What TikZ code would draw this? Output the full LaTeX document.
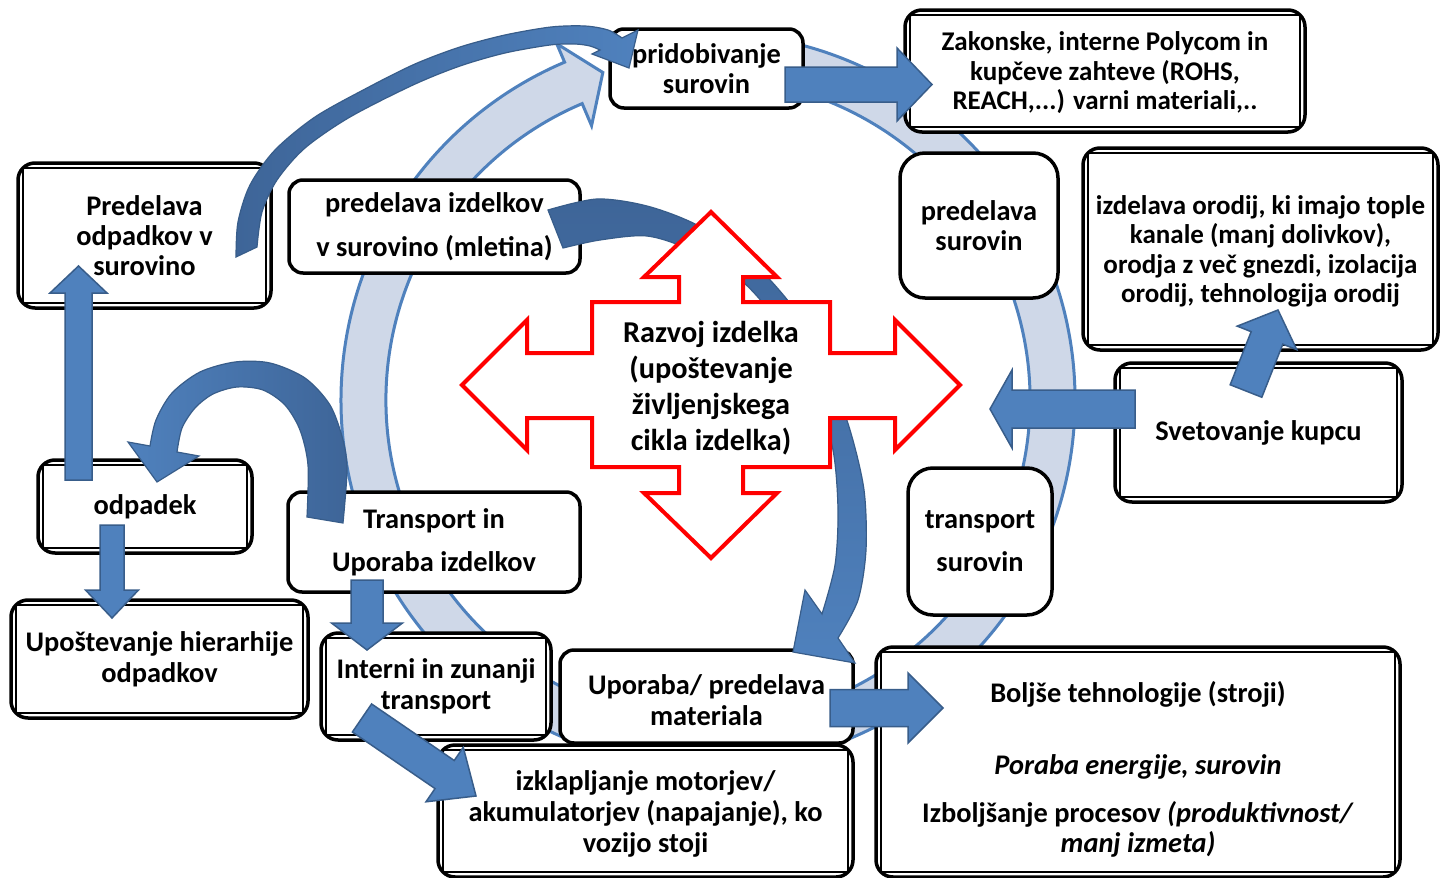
\documentclass[tikz,border=0pt]{standalone}
\usepackage{fontspec}
\setmainfont{Carlito}
\usetikzlibrary{calc}
\definecolor{bandfill}{RGB}{207,216,232}
\definecolor{accent}{RGB}{79,129,189}
\definecolor{accentdk}{RGB}{56,93,138}
\definecolor{curvdark}{RGB}{62,101,152}
\newcommand{\blockarrow}[5]{%
  \coordinate (hb) at ($(#2)!#5!(#1)$);
  \path[blockarr] ($(#1)!#3!90:(#2)$) -- ($(hb)!#3!-90:(#1)$) -- ($(hb)!#4!-90:(#1)$) -- (#2)
     -- ($(hb)!#4!90:(#1)$) -- ($(hb)!#3!90:(#1)$) -- ($(#1)!#3!-90:(#2)$) -- cycle;}
\newcommand{\lift}[1]{\rule{0pt}{#1}}
\begin{document}
\begin{tikzpicture}[x=1pt,y=-1pt,
  every node/.style={font=\fontsize{28.4}{30}\selectfont\bfseries, text=black},
  sbox/.style={draw=black, line width=3.5pt, fill=white, rounded corners=14pt, inner sep=0pt, align=center},
  dbox/.style={sbox, rounded corners=17pt},
  innerline/.style={draw=black, line width=1.6pt},
  band/.style={fill=bandfill, draw=accent, line width=3pt, line join=miter},
  blockarr/.style={fill=accent, draw=accentdk, line width=1.5pt, line join=miter},
  curvarr/.style={draw=accentdk, line width=1.2pt, line join=miter},
  redarr/.style={draw=red, fill=white, line width=4pt, line join=miter},
]
\useasboundingbox (0,0) rectangle (1441,878);
\fill[white] (0,0) rectangle (1441,878);

% life-cycle band
\coordinate (cc) at (708,400);
\path[band] ([shift={(cc)}]85:367pt) arc[start angle=85,end angle=-247,radius=367pt]
  -- ([shift={(cc)}]-247:387pt) -- ([shift={(cc)}]-252.2:344pt) -- ([shift={(cc)}]-247:298pt)
  -- ([shift={(cc)}]-247:322pt) arc[start angle=-247,end angle=85,radius=322pt] -- cycle;

% boxes
\node[sbox, minimum width=193pt, minimum height=79pt] (prid) at (706.5,68.5) {pridobivanje\\surovin};
\node[dbox, minimum width=400pt, minimum height=122pt, font=\fontsize{27}{29.5}\selectfont\bfseries] (zak) at (1105,71) {\lift{23pt}Zakonske, interne Polycom in\\kupčeve zahteve (ROHS,\\REACH,...) varni materiali,..};
\node[dbox, minimum width=253pt, minimum height=145pt] (pred) at (144.5,235.5) {Predelava\\odpadkov v\\surovino};
\node[sbox, minimum width=291pt, minimum height=93pt] (pizd) at (434.5,226.5) {predelava izdelkov\\[14pt]v surovino (mletina)};
\node[sbox, rounded corners=25pt, minimum width=158pt, minimum height=145pt] (psur) at (979,225.5) {predelava\\surovin};
\node[dbox, minimum width=355pt, minimum height=202pt, font=\fontsize{27}{29.5}\selectfont\bfseries] (orod) at (1260.5,249) {\lift{24pt}izdelava orodij, ki imajo tople\\kanale (manj dolivkov),\\orodja z več gnezdi, izolacija\\orodij, tehnologija orodij};
\node[dbox, minimum width=287pt, minimum height=139pt] (svet) at (1258.5,432.5) {Svetovanje kupcu};
\node[dbox, minimum width=214pt, minimum height=93pt] (odp) at (145,506.5) {odpadek};
\node[sbox, minimum width=292pt, minimum height=100pt] (tui) at (434,542) {Transport in\\[13pt]Uporaba izdelkov};
\node[sbox, rounded corners=25pt, minimum width=144pt, minimum height=147pt] (tsur) at (980,541.5) {transport\\[13pt]surovin};
\node[dbox, minimum width=297pt, minimum height=118pt] (upos) at (159.5,659) {Upoštevanje hierarhije\\[1pt]odpadkov};
\node[dbox, minimum width=230pt, minimum height=107pt] (intr) at (436,686.5) {Interni in zunanji\\[1pt]transport};
\node[sbox, minimum width=293pt, minimum height=93pt] (upm) at (706.5,696.5) {\lift{27.5pt}Uporaba/ predelava\\[1pt]materiala};
\node[dbox, minimum width=415pt, minimum height=132pt] (izk) at (645.5,811) {\lift{26.5pt}izklapljanje motorjev/\\[1pt]akumulatorjev (napajanje), ko\\[1pt]vozijo stoji};
\node[dbox, minimum width=524pt, minimum height=230pt] (bol) at (1138,762) {\lift{36pt}Boljše tehnologije (stroji)\\[42pt]\textit{Poraba energije, surovin}\\[18pt]Izboljšanje procesov \textit{(produktivnost/}\\\textit{manj izmeta)}};
\foreach \n in {zak,pred,orod,svet,odp,upos,intr,izk,bol}
  \draw[innerline] ([xshift=7pt,yshift=-7pt]\n.north west) rectangle ([xshift=-7pt,yshift=7pt]\n.south east);

% curved arrow: predelava izdelkov -> uporaba materiala (behind the red arrow)
\path[curvarr, top color=curvdark, bottom color=accent] plot[smooth] coordinates {(548,210) (597,199) (647,206) (697,225) (750,260) (795,310) (828,370) (850,430) (864,490) (866,550) (858,600) (838,638)}
  -- (855,663) -- (793,652) -- (805,590) -- (822,614)
  -- plot[smooth] coordinates {(822,614) (835,565) (838,510) (833,450) (815,390) (785,332) (743,282) (690,250) (647,236) (600,240) (563,248)} -- cycle;

% central red four-way arrow
\path[redarr] (711,212) -- (777,277) -- (743,277) -- (743,302) -- (830,302) -- (830,353) -- (895,353) -- (895,320)
  -- (960,385) -- (895,450) -- (895,418) -- (830,418) -- (830,467) -- (743,467) -- (743,493) -- (777,493)
  -- (711,558) -- (644,493) -- (679,493) -- (679,467) -- (592,467) -- (592,418) -- (527,418) -- (527,450)
  -- (462,385) -- (527,320) -- (527,353) -- (592,353) -- (592,302) -- (679,302) -- (679,277) -- (644,277) -- cycle;
\node[align=center, font=\fontsize{30.3}{36}\selectfont\bfseries] (razvoj) at (711,388) {Razvoj izdelka\\(upoštevanje\\življenjskega\\cikla izdelka)};

% curved arrow: predelava odpadkov -> pridobivanje surovin
\path[curvarr, left color=curvdark, right color=accent] plot[smooth] coordinates {(236,257) (238,222) (250,185) (275,150) (315,117) (367,88) (415,64) (460,47) (505,35) (551,27) (585,26) (608,30) (622,38)}
  -- (638,30) -- (629,68) -- (592,54) -- (600,50)
  -- plot[smooth] coordinates {(600,50) (590,46) (575,44) (550,45) (505,53) (460,66) (413,85) (350,117) (305,148) (277,180) (262,212) (257,247)} -- cycle;

% curved arrow: transport in uporaba -> odpadek
\path[curvarr, left color=accent, right color=curvdark] plot[smooth] coordinates {(343,523) (347,470) (343,440) (330,405) (305,378) (270,363) (235,362) (200,372) (172,393) (156,420) (150,446)}
  -- (128,442) -- (157,482) -- (199,456) -- (177,452)
  -- plot[smooth] coordinates {(177,452) (182,428) (195,408) (213,394) (237,387) (263,390) (285,405) (300,430) (308,465) (307,517)} -- cycle;

% block arrows
\coordinate (pridR) at (785,84.5);   \coordinate (zakL) at (932,84.5);
\coordinate (svetL) at (1135,409);   \coordinate (cycR) at (990,409);
\coordinate (svetT) at (1246,391);   \coordinate (orodB) at (1278,310);
\coordinate (upmR) at (830,708);     \coordinate (bolL) at (943,708);
\coordinate (odpT) at (78.5,480);    \coordinate (predB) at (78.5,266);
\coordinate (odpB) at (112,525);     \coordinate (uposT) at (112,618);
\coordinate (tuiB) at (367,580);     \coordinate (intT) at (367,650);
\coordinate (intB) at (362,718);     \coordinate (izkL) at (476,796);
\blockarrow{pridR}{zakL}{17.5pt}{36.5pt}{35pt}
\blockarrow{svetL}{cycR}{19pt}{39pt}{22pt}
\blockarrow{svetT}{orodB}{17pt}{32pt}{30pt}
\blockarrow{upmR}{bolL}{18.5pt}{35pt}{35pt}
\blockarrow{odpT}{predB}{13.5pt}{28.5pt}{27pt}
\blockarrow{odpB}{uposT}{12pt}{26.5pt}{28pt}
\blockarrow{tuiB}{intT}{16pt}{35.5pt}{27pt}
\blockarrow{intB}{izkL}{17pt}{33pt}{38pt}
\end{tikzpicture}
\end{document}
